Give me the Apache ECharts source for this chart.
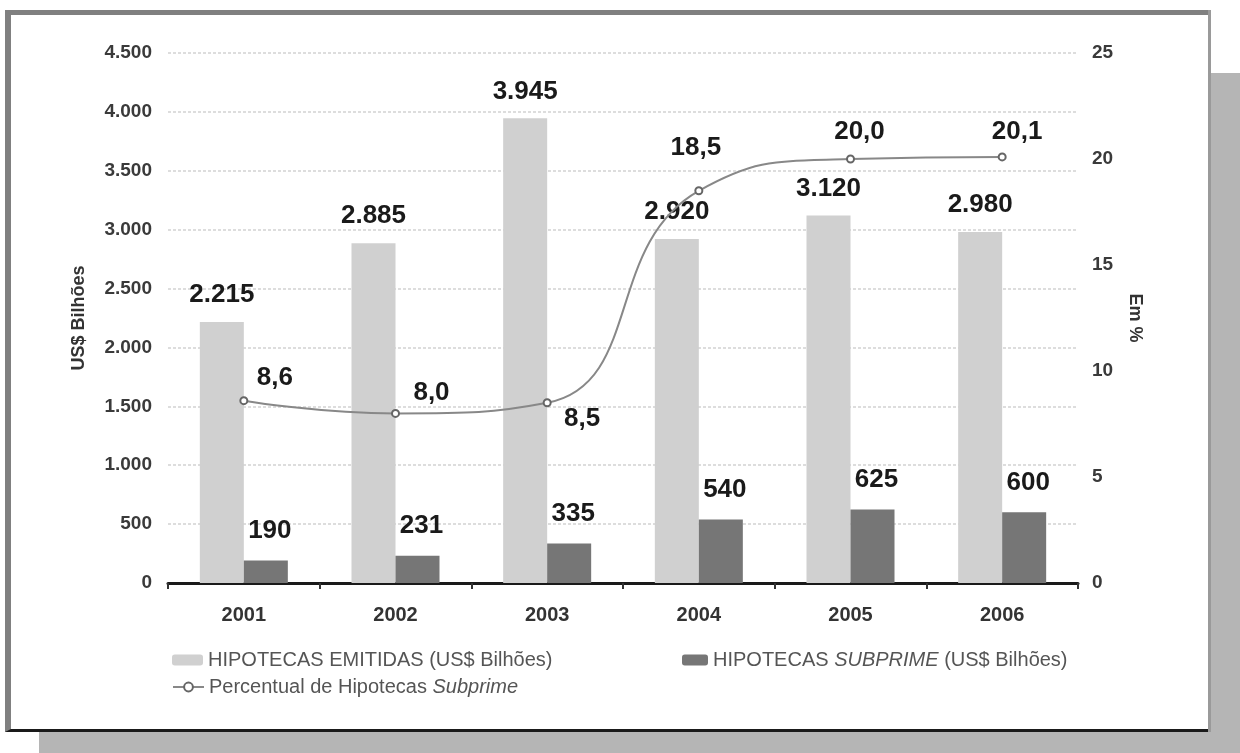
<!DOCTYPE html>
<html>
<head>
<meta charset="utf-8">
<script src="https://cdn.jsdelivr.net/npm/echarts@6/dist/echarts.min.js"></script>
<style>
  html, body { margin: 0; padding: 0; background: #ffffff; }
  #stage { position: relative; width: 1240px; height: 753px; overflow: hidden; }
  .shadow { position: absolute; left: 39px; top: 73px; width: 1201px; height: 680px; background: #b5b5b5; }
  .frame {
    position: absolute; left: 5px; top: 10px;
    background: #ffffff;
    border-left: 6px solid #808080; border-top: 5px solid #808080;
    border-right: 3px solid #333333; border-bottom: 3px solid #1a1a1a;
    box-sizing: border-box; width: 1206px; height: 722px;
  }
  .frame-edge { position: absolute; left: 1208px; top: 10px; width: 3px; height: 722px; background: #9a9a9a; }
  #chart { position: absolute; left: 0; top: 0; width: 1240px; height: 753px; }
</style>
</head>
<body>
<div id="stage">
  <div class="shadow"></div>
  <div class="frame"></div>
  <div class="frame-edge"></div>
  <div id="chart"></div>
</div>
<script>
// Mortgage issuance in the US, 2001-2006
const years = ['2001', '2002', '2003', '2004', '2005', '2006'];
const hipotecasEmitidas = [2215, 2885, 3945, 2920, 3120, 2980];   // US$ billions
const hipotecasSubprime = [190, 231, 335, 540, 625, 600];         // US$ billions
const percentualSubprime = [8.6, 8.0, 8.5, 18.5, 20.0, 20.1];     // %

// label placement around each point of the percentage line
const pctLabelOffsets = [[31, -23], [36, -21], [35, 16], [-3, -43], [9, -27], [15, -25]];

const fmtThousands = v => String(v).replace(/\B(?=(\d{3})+(?!\d))/g, '.');
const fmtDecimal = v => v.toFixed(1).replace('.', ',');

const FONT = '"Liberation Sans", Arial, sans-serif';
const valueLabel = {
  show: true,
  position: 'top',
  fontFamily: FONT,
  fontSize: 26,
  fontWeight: 'bold',
  color: '#1a1a1a'
};

const chart = echarts.init(document.getElementById('chart'));

const legendText = {
  fontFamily: FONT,
  fontSize: 20,
  color: '#555555',
  rich: {
    n: { fontFamily: FONT, fontSize: 20, color: '#555555' },
    i: { fontFamily: FONT, fontSize: 20, color: '#555555', fontStyle: 'italic' }
  }
};

chart.setOption({
  animation: false,
  grid: { left: 168, right: 162, top: 53, bottom: 170 },
  legend: [
    {
      data: ['HIPOTECAS EMITIDAS (US$ Bilhões)'],
      left: 172, top: 650, padding: 0,
      itemWidth: 31, itemHeight: 11,
      textStyle: legendText,
      formatter: () => '{n|HIPOTECAS EMITIDAS (US$ Bilhões)}'
    },
    {
      data: ['HIPOTECAS SUBPRIME (US$ Bilhões)'],
      left: 682, top: 650, padding: 0,
      itemWidth: 26, itemHeight: 11,
      textStyle: legendText,
      formatter: () => '{n|HIPOTECAS }{i|SUBPRIME}{n| (US$ Bilhões)}'
    },
    {
      data: ['Percentual de Hipotecas Subprime'],
      left: 172, top: 677, padding: 0,
      itemWidth: 31, itemHeight: 11,
      textStyle: legendText,
      formatter: () => '{n|Percentual de Hipotecas }{i|Subprime}'
    }
  ],
  xAxis: {
    type: 'category',
    data: years,
    axisLine: { lineStyle: { color: '#1a1a1a', width: 3 } },
    axisTick: { show: true, length: 6, lineStyle: { color: '#333333', width: 2 } },
    axisLabel: {
      margin: 22,
      fontFamily: FONT, fontSize: 20, fontWeight: 'bold', color: '#333333'
    }
  },
  yAxis: [
    {
      type: 'value',
      min: 0, max: 4500, interval: 500,
      name: 'US$ Bilhões',
      nameLocation: 'middle',
      nameGap: 80,
      nameRotate: 90,
      nameTextStyle: { fontFamily: FONT, fontSize: 18, fontWeight: 'bold', color: '#333333' },
      axisLine: { show: false },
      axisTick: { show: false },
      axisLabel: {
        margin: 16,
        fontFamily: FONT, fontSize: 19, fontWeight: 'bold', color: '#3a3a3a',
        formatter: v => fmtThousands(v)
      },
      splitLine: { show: true, lineStyle: { color: '#dddddd', width: 2, type: [3, 2] } }
    },
    {
      type: 'value',
      min: 0, max: 25, interval: 5,
      name: 'Em %',
      nameLocation: 'middle',
      nameGap: 48,
      nameRotate: -90,
      nameTextStyle: { fontFamily: FONT, fontSize: 18, fontWeight: 'bold', color: '#333333' },
      axisLine: { show: false },
      axisTick: { show: false },
      axisLabel: {
        margin: 14,
        fontFamily: FONT, fontSize: 19, fontWeight: 'bold', color: '#3a3a3a'
      },
      splitLine: { show: false }
    }
  ],
  series: [
    {
      name: 'HIPOTECAS EMITIDAS (US$ Bilhões)',
      type: 'bar',
      data: hipotecasEmitidas,
      barWidth: 44,
      barGap: '0%',
      itemStyle: { color: '#d0d0d0' },
      label: Object.assign({}, valueLabel, { distance: 14, formatter: p => fmtThousands(p.value) })
    },
    {
      name: 'HIPOTECAS SUBPRIME (US$ Bilhões)',
      type: 'bar',
      data: hipotecasSubprime,
      barWidth: 44,
      barGap: '0%',
      itemStyle: { color: '#767676' },
      label: Object.assign({}, valueLabel, { distance: 17, offset: [4, 0], formatter: p => fmtThousands(p.value) })
    },
    {
      name: 'Percentual de Hipotecas Subprime',
      type: 'line',
      yAxisIndex: 1,
      smooth: 0.5,
      symbol: 'emptyCircle',
      symbolSize: 7,
      z: 5,
      lineStyle: { color: '#888888', width: 2 },
      itemStyle: { color: '#666666', borderWidth: 2 },
      data: percentualSubprime.map((v, i) => ({
        value: v,
        label: { offset: pctLabelOffsets[i] }
      })),
      label: Object.assign({}, valueLabel, { position: 'inside', formatter: p => fmtDecimal(p.value) })
    }
  ]
});
</script>
</body>
</html>
